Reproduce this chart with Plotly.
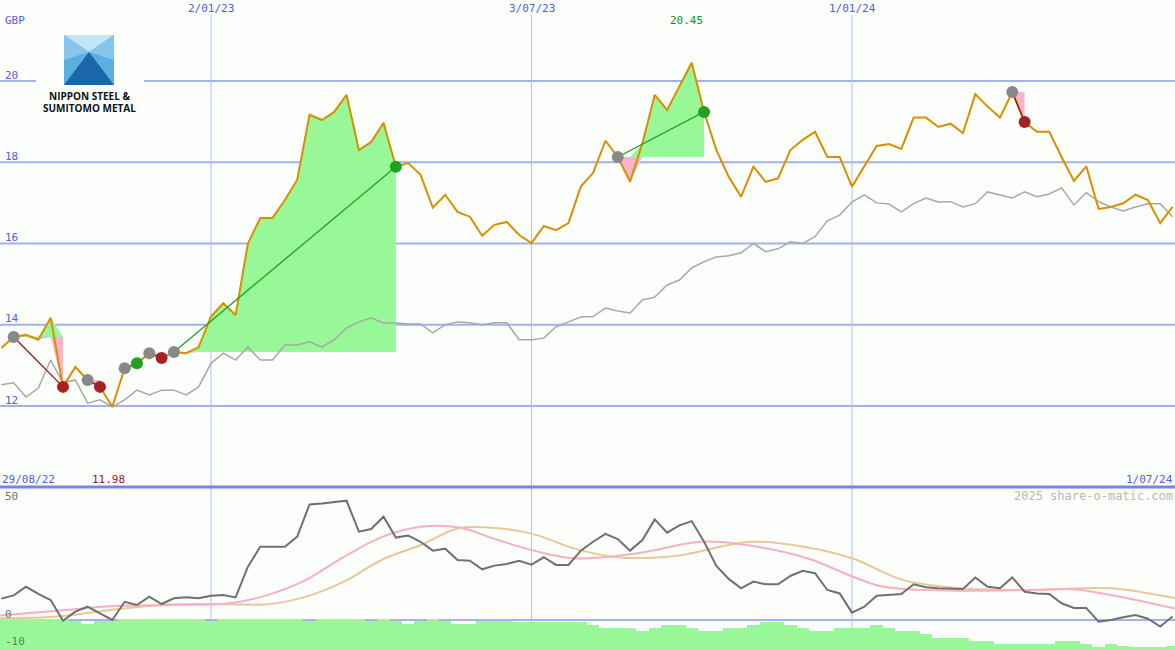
import plotly.graph_objects as go

# weekly index: week 0 = 29/08/22
weeks = list(range(1, 97))
price = [13.43, 13.70, 13.75, 13.63, 14.17, 12.47, 12.96, 12.64, 12.47, 11.98,
         12.93, 13.05, 13.3, 13.18, 13.33, 13.3, 13.45, 14.2, 14.53, 14.24,
         16.0, 16.63, 16.63, 17.07, 17.57, 19.17, 19.04, 19.24, 19.66, 18.3,
         18.5, 18.97, 17.89, 17.98, 17.69, 16.88, 17.2, 16.78, 16.66, 16.19,
         16.46, 16.53, 16.21, 16.01, 16.43, 16.33, 16.5, 17.4, 17.74, 18.53,
         18.13, 17.52, 18.47, 19.66, 19.29, 19.86, 20.45, 19.24, 18.3, 17.64,
         17.15, 17.89, 17.52, 17.6, 18.3, 18.55, 18.75, 18.13, 18.13, 17.4,
         17.9, 18.4, 18.45, 18.33, 19.1, 19.1, 18.87, 18.95, 18.72, 19.68,
         19.37, 19.1, 19.73, 18.99, 18.75, 18.75, 18.13, 17.54, 17.9, 16.85,
         16.9, 16.99, 17.2, 17.07, 16.5, 16.9]
relative = [12.52, 12.57, 12.22, 12.44, 13.13, 12.57, 12.64, 12.07, 12.15, 11.98,
            12.15, 12.39, 12.27, 12.39, 12.39, 12.27, 12.47, 13.05, 13.3, 13.13,
            13.45, 13.13, 13.13, 13.5, 13.5, 13.58, 13.45, 13.63, 13.92, 14.07,
            14.17, 14.04, 14.04, 14.02, 14.02, 13.8, 14.0, 14.07, 14.05, 14.0,
            14.05, 14.05, 13.63, 13.63, 13.67, 13.95, 14.07, 14.19, 14.2, 14.41,
            14.34, 14.29, 14.61, 14.68, 14.98, 15.1, 15.4, 15.55, 15.67, 15.7,
            15.77, 16.0, 15.8, 15.87, 16.04, 16.0, 16.17, 16.56, 16.7, 17.02,
            17.2, 17.0, 16.97, 16.78, 16.98, 17.12, 17.02, 17.03, 16.9, 16.98,
            17.27, 17.2, 17.12, 17.27, 17.15, 17.22, 17.37, 16.95, 17.25, 17.03,
            16.9, 16.8, 16.9, 16.98, 16.98, 16.66]
momentum = [8.7, 10.0, 13.5, 10.6, 8.1, -0.3, 3.4, 5.4, 2.7, 0.0,
            7.4, 6.1, 9.5, 6.5, 8.8, 9.2, 8.8, 9.9, 10.2, 9.2,
            21.7, 29.8, 29.8, 29.8, 33.9, 47.0, 47.4, 48.0, 48.5, 35.9,
            37.0, 42.0, 33.5, 34.3, 31.8, 28.2, 29.0, 24.4, 24.1, 20.6,
            22.1, 22.8, 24.1, 22.5, 25.5, 22.4, 22.4, 28.2, 31.8, 35.0,
            32.9, 28.2, 32.5, 40.9, 35.5, 38.5, 40.2, 31.8, 22.0, 16.7,
            12.9, 15.6, 14.5, 14.5, 17.9, 20.0, 19.0, 12.2, 10.8, 3.0,
            5.4, 9.9, 10.2, 10.6, 14.5, 13.3, 12.9, 12.8, 12.6, 17.3,
            13.5, 12.9, 17.3, 11.5, 10.8, 10.6, 6.8, 4.9, 4.9, -0.7,
            0.0, 1.1, 2.0, 0.5, -2.7, 1.4]
volume = [0.3, 0.3, 0.3, 0.3, 0.3, 0.3, -0.5, -1.5, -0.5, -0.5,
          0.3, 0.3, 0.3, 0.3, 0.3, 0.3, 0.3, -0.5, 0.3, 0.3,
          0.3, 0.3, 0.3, 0.3, 0.3, -0.5, 0.3, 0.3, 0.3, 0.3,
          -0.5, 0.3, -0.5, -1.5, -0.5, 0.3, -0.5, -1.5, -1.5, -0.5,
          -0.5, -0.5, -0.7, -0.7, -0.7, -0.7, -0.7, -0.7, -2.0, -3.4,
          -3.4, -3.4, -4.5, -3.4, -2.0, -2.0, -3.4, -4.5, -4.5, -3.4,
          -3.4, -2.0, -0.7, -0.7, -2.0, -3.4, -4.5, -4.5, -3.4, -3.4,
          -3.4, -2.0, -3.4, -4.5, -4.5, -5.8, -7.3, -7.3, -7.3, -8.6,
          -8.6, -9.8, -9.8, -9.8, -9.8, -9.8, -8.6, -8.6, -9.8, -11.0,
          -9.8, -10.5, -11.0, -11.0, -11.0, -10.5]
# smoothed averages, read at sparse pixel positions (x px, value)
pink_px = [0, 57, 115, 172, 230, 268, 306, 344, 383, 421, 459, 498, 536, 574,
           637, 701, 739, 808, 853, 884, 960, 1035, 1073, 1111, 1175]
pink_val = [1.8, 3.8, 5.7, 6.1, 6.8, 10.2, 16.3, 25.7, 33.9, 37.9, 37.6, 32.5, 28, 25.1,
            27.1, 31.8, 30.9, 25, 17.6, 13.5, 11.9, 12.3, 12.5, 10.2, 4.7]
tan_px = [0, 57, 115, 172, 230, 268, 306, 344, 383, 421, 459, 498, 536, 574,
          618, 675, 751, 808, 853, 903, 960, 1035, 1111, 1175]
tan_val = [0.7, 1.4, 4.3, 6.4, 6.4, 6.4, 9.5, 15.6, 24.7, 30.5, 37.3, 37.3, 34.6, 29.1,
           25.5, 26, 31.8, 29.5, 25, 16.3, 12.9, 12.2, 12.9, 8.8]
# trades: (entry week, exit week)
trades = [(2, 6), (8, 9), (11, 12), (13, 14), (15, 33), (51, 58), (83, 84)]
date_weeks = [18, 44, 70]
date_labels = ["2/01/23", "3/07/23", "1/01/24"]
price_ticks = [12, 14, 16, 18, 20]

W, H = 1175, 650
def px(x): return x / W
def py(y): return 1 - y / H
def wk(x): return 18 + (x - 211) / 12.33

GRID = "#a4b0f0"
GREEN_FILL = "#98f898"
PINK_FILL = "#f8b4c8"
MONO = "DejaVu Sans Mono"

fig = go.Figure()

# trade fills
for e, x in trades:
    pe = price[e - 1]
    ws = weeks[e - 1:x]
    seg = price[e - 1:x]
    fig.add_trace(go.Scatter(x=ws, y=[pe] * len(ws), mode="lines", line=dict(width=0),
                             showlegend=False, hoverinfo="skip"))
    fig.add_trace(go.Scatter(x=ws, y=[max(p, pe) for p in seg], mode="lines", line=dict(width=0),
                             fill="tonexty", fillcolor=GREEN_FILL, showlegend=False, hoverinfo="skip"))
    fig.add_trace(go.Scatter(x=ws, y=[pe] * len(ws), mode="lines", line=dict(width=0),
                             showlegend=False, hoverinfo="skip"))
    fig.add_trace(go.Scatter(x=ws, y=[min(p, pe) for p in seg], mode="lines", line=dict(width=0),
                             fill="tonexty", fillcolor=PINK_FILL, showlegend=False, hoverinfo="skip"))

fig.add_trace(go.Scatter(x=weeks, y=relative, mode="lines", line=dict(color="#a8a8a8", width=1.5),
                         showlegend=False))
fig.add_trace(go.Scatter(x=weeks, y=price, mode="lines", line=dict(color="#d89000", width=2),
                         showlegend=False))

for e, x in trades:
    win = price[x - 1] > price[e - 1]
    col = "#22a022" if win else "#8b1a1a"
    fig.add_trace(go.Scatter(x=[e, x], y=[price[e - 1], price[x - 1]], mode="lines",
                             line=dict(color=col, width=1.3), showlegend=False))
    fig.add_trace(go.Scatter(x=[e], y=[price[e - 1]], mode="markers",
                             marker=dict(color="#888888", size=12), showlegend=False))
    fig.add_trace(go.Scatter(x=[x], y=[price[x - 1]], mode="markers",
                             marker=dict(color="#22a022" if win else "#a82020", size=12),
                             showlegend=False))

# lower panel
fig.add_trace(go.Bar(x=weeks, y=[v + 12.5 for v in volume], base=-12.5, width=1.0,
                     marker=dict(color=GREEN_FILL, line=dict(width=0)), yaxis="y2",
                     showlegend=False))
fig.add_trace(go.Scatter(x=[wk(v) for v in tan_px], y=tan_val, mode="lines", yaxis="y2",
                         line=dict(color="#e8c898", width=2, shape="spline"), showlegend=False))
fig.add_trace(go.Scatter(x=[wk(v) for v in pink_px], y=pink_val, mode="lines", yaxis="y2",
                         line=dict(color="#f8b0c0", width=2, shape="spline"), showlegend=False))
fig.add_trace(go.Scatter(x=weeks, y=momentum, mode="lines", yaxis="y2",
                         line=dict(color="#707070", width=2), showlegend=False))

shapes = []
for t in price_ticks:
    shapes.append(dict(type="line", xref="paper", yref="y", x0=0, x1=1, y0=t, y1=t,
                       line=dict(color=GRID, width=2), layer="below"))
shapes.append(dict(type="line", xref="paper", yref="y2", x0=0, x1=1, y0=0, y1=0,
                   line=dict(color=GRID, width=2), layer="below"))
for d in date_weeks:
    shapes.append(dict(type="line", xref="x", yref="paper", x0=d, x1=d, y0=0, y1=py(15),
                       line=dict(color="#b0bcf4", width=1), layer="below"))
shapes.append(dict(type="line", xref="paper", yref="paper", x0=0, x1=1, y0=py(487), y1=py(487),
                   line=dict(color="#7484ec", width=3)))
# logo
shapes.append(dict(type="rect", xref="paper", yref="paper", x0=px(36), x1=px(144), y0=py(30),
                   y1=py(116), fillcolor="#fcfefc", line=dict(width=0)))
def tri(pts, col):
    path = "M " + " L ".join(f"{px(a)},{py(b)}" for a, b in pts) + " Z"
    return dict(type="path", xref="paper", yref="paper", path=path, fillcolor=col, line=dict(width=0))
shapes.append(tri([(64, 35), (114, 35), (114, 85), (64, 85)], "#5aaee0"))
shapes.append(tri([(64, 35), (114, 35), (89, 52)], "#c4e4f8"))
shapes.append(tri([(64, 35), (89, 52), (64, 60)], "#86c6ec"))
shapes.append(tri([(114, 35), (89, 52), (114, 60)], "#86c6ec"))
shapes.append(tri([(64, 85), (89, 52), (114, 85)], "#1a66a8"))

ann = []
def txt(x, y, s, col, size=11, anchor="left", family=MONO, **kw):
    ann.append(dict(x=px(x), y=py(y), xref="paper", yref="paper", text=s, showarrow=False,
                    xanchor=anchor, yanchor="middle", font=dict(family=family, size=size, color=col), **kw))
txt(3, 20, "GBP", "#5060e0")
for t in price_ticks:
    txt(3, 406 - (t - 12) * 40.6 - 6, str(t), "#5060e0")
for d, l in zip(date_weeks, date_labels):
    txt(211 + (d - 18) * 12.33, 8, l, "#5060e0", anchor="center")
txt(0, 479, "29/08/22", "#5060e0")
txt(90, 479, "11.98", "#a01818")
txt(1175, 479, "1/07/24", "#5060e0", anchor="right")
txt(686, 20, "20.45", "#189018", anchor="center")
txt(1175, 496, "2025 share-o-matic.com", "#b8b8b8", size=12, anchor="right")
txt(3, 496, "50", "#707070")
txt(3, 614, "0", "#707070")
txt(3, 641, "-10", "#707070")
txt(89, 96, "<b>NIPPON STEEL &</b>", "#111111", size=10, anchor="center", family="Open Sans")
txt(89, 108, "<b>SUMITOMO METAL</b>", "#111111", size=10, anchor="center", family="Open Sans")

fig.update_layout(
    width=W, height=H, margin=dict(l=0, r=0, t=0, b=0),
    paper_bgcolor="#fcfefc", plot_bgcolor="#fcfefc",
    xaxis=dict(range=[0.89, 96.2], visible=False, showgrid=False),
    yaxis=dict(domain=[py(486), py(15)], range=[12 - 80 / 40.6, 20 + 66 / 40.6],
               visible=False, showgrid=False),
    yaxis2=dict(domain=[0, py(488)], range=[-30 / 2.46, 132 / 2.46], visible=False,
                showgrid=False),
    shapes=shapes, annotations=ann, bargap=0,
)
fig.write_html("out.html", config={"displayModeBar": False},
               post_script="document.body.style.margin='0';")
